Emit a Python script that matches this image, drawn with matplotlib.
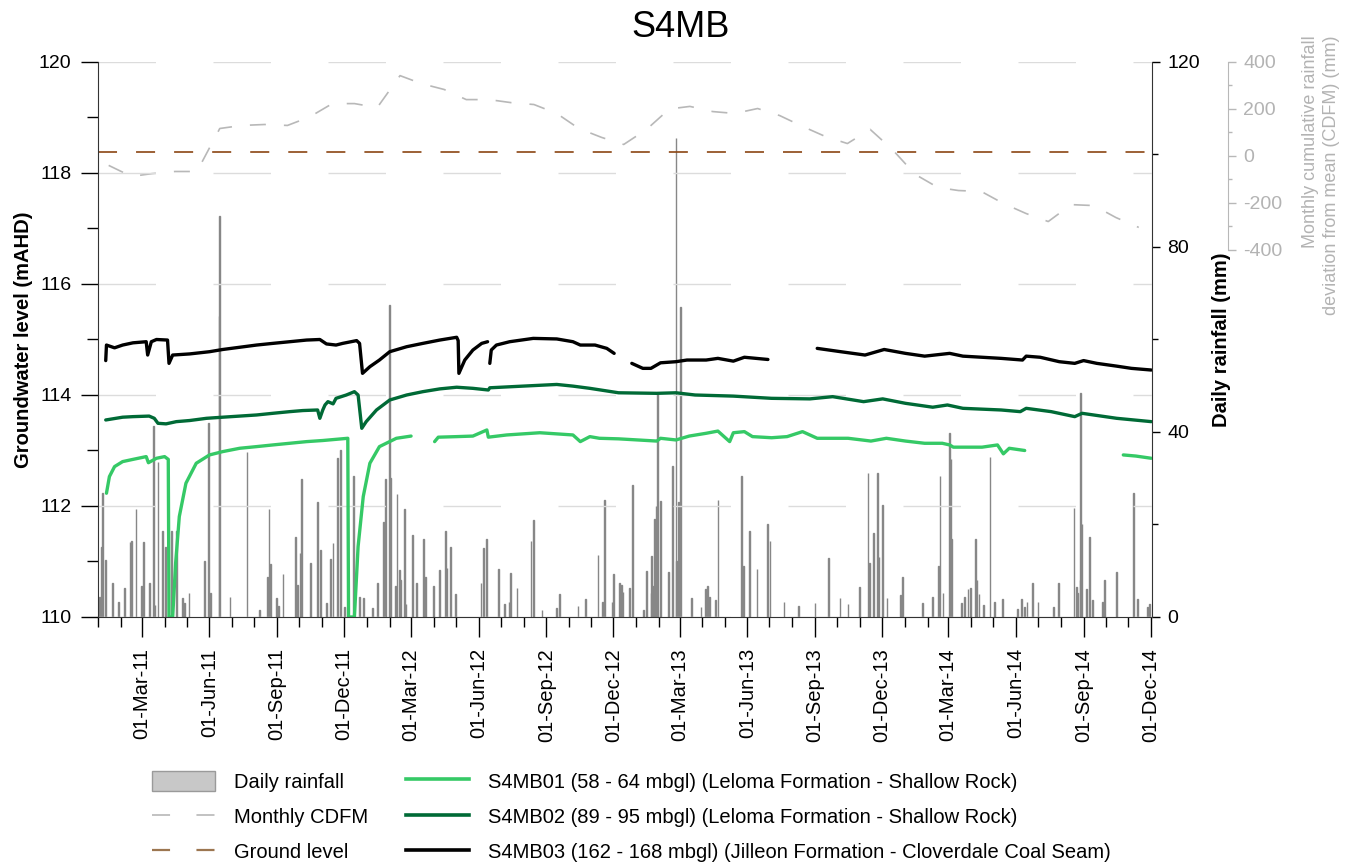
import numpy as np
import pandas as pd
import matplotlib
matplotlib.use("Agg")
import matplotlib.pyplot as plt
import matplotlib.dates as mdates
from matplotlib.ticker import MultipleLocator, FixedLocator
from matplotlib.patches import Patch
from matplotlib.lines import Line2D

plt.rcParams['font.family'] = ['Liberation Sans', 'DejaVu Sans']
plt.rcParams['lines.scale_dashes'] = False
plt.rcParams['axes.unicode_minus'] = False

nan = np.nan

# ---------------- data ----------------
rain_dates = [
    '2011-01-03', '2011-01-05', '2011-01-07', '2011-01-11', '2011-01-20', '2011-01-28',
    '2011-02-06', '2011-02-13', '2011-02-15', '2011-02-21', '2011-03-01', '2011-03-03',
    '2011-03-11', '2011-03-17', '2011-03-19', '2011-03-23', '2011-03-29', '2011-04-02',
    '2011-04-10', '2011-04-17', '2011-04-25', '2011-04-28', '2011-05-04', '2011-05-25',
    '2011-05-31', '2011-06-02', '2011-06-14', '2011-06-15', '2011-06-29', '2011-07-22',
    '2011-08-08', '2011-08-19', '2011-08-21', '2011-08-23', '2011-08-31', '2011-09-03',
    '2011-09-09', '2011-09-26', '2011-09-29', '2011-10-02', '2011-10-04', '2011-10-16',
    '2011-10-26', '2011-10-30', '2011-11-07', '2011-11-12', '2011-11-16', '2011-11-22',
    '2011-11-26', '2011-12-02', '2011-12-14', '2011-12-22', '2011-12-27',
    '2012-01-09', '2012-01-15', '2012-01-24', '2012-01-26', '2012-02-01', '2012-02-02',
    '2012-02-09', '2012-02-11', '2012-02-14', '2012-02-16', '2012-02-21', '2012-02-23',
    '2012-03-03', '2012-03-08', '2012-03-18', '2012-03-21', '2012-03-31', '2012-04-09',
    '2012-04-17', '2012-04-19', '2012-04-24', '2012-04-30', '2012-06-04', '2012-06-07',
    '2012-06-12', '2012-06-28', '2012-07-06', '2012-07-12', '2012-07-14', '2012-07-23',
    '2012-08-11', '2012-08-14', '2012-08-26', '2012-09-15', '2012-09-19', '2012-10-14',
    '2012-10-24', '2012-11-10', '2012-11-16', '2012-11-19', '2012-11-29', '2012-12-01',
    '2012-12-09', '2012-12-12', '2012-12-14', '2012-12-23', '2012-12-27',
    '2013-01-11', '2013-01-15', '2013-01-21', '2013-01-22', '2013-01-24', '2013-01-26',
    '2013-01-28', '2013-01-30', '2013-02-03', '2013-02-14', '2013-02-19', '2013-02-24',
    '2013-02-25', '2013-02-27', '2013-03-02', '2013-03-17', '2013-03-30', '2013-04-05',
    '2013-04-08', '2013-04-11', '2013-04-19', '2013-04-22', '2013-05-24', '2013-05-27',
    '2013-06-04', '2013-06-14', '2013-06-28', '2013-07-02', '2013-07-21', '2013-08-10',
    '2013-09-01', '2013-09-19', '2013-10-05', '2013-10-16', '2013-10-31', '2013-11-12',
    '2013-11-14', '2013-11-19', '2013-11-25', '2013-11-27', '2013-12-02', '2013-12-08',
    '2013-12-26', '2013-12-29',
    '2014-01-25', '2014-02-08', '2014-02-16', '2014-02-18', '2014-02-22', '2014-03-03',
    '2014-03-05', '2014-03-06', '2014-03-19', '2014-03-23', '2014-03-28', '2014-03-31',
    '2014-04-07', '2014-04-09', '2014-04-12', '2014-04-18', '2014-04-27', '2014-05-03',
    '2014-05-14', '2014-06-03', '2014-06-09', '2014-06-13', '2014-06-16', '2014-06-24',
    '2014-07-01', '2014-07-22', '2014-07-29', '2014-08-19', '2014-08-22', '2014-08-24',
    '2014-08-27', '2014-08-28', '2014-08-30', '2014-09-05', '2014-09-09', '2014-09-13',
    '2014-09-27', '2014-09-29', '2014-10-16', '2014-11-08', '2014-11-13', '2014-11-27',
    '2014-11-30',
]
rain_mm = [
    4.4, 15.2, 26.9, 12.3, 7.3, 3.3,
    6.2, 16.3, 16.4, 23.4, 6.6, 16.3,
    7.4, 41.2, 2.6, 33.6, 18.6, 15.2,
    18.7, 18.5, 4.0, 3.0, 5.1, 12.0,
    41.9, 5.1, 65.0, 86.7, 4.3, 35.7,
    1.5, 8.7, 23.3, 11.5, 4.0, 2.4,
    9.2, 17.2, 6.9, 13.8, 29.8, 11.7,
    24.9, 14.5, 3.0, 12.6, 15.9, 34.3,
    36.2, 2.2, 30.5, 4.4, 4.0,
    1.9, 7.3, 20.6, 29.8, 67.5, 30.0,
    6.7, 26.7, 10.2, 8.1, 23.3, 2.8,
    17.7, 7.3, 16.8, 8.7, 6.6, 10.2,
    18.7, 10.5, 15.1, 5.0, 7.3, 15.0,
    16.9, 10.4, 2.8, 3.3, 9.6, 6.2,
    16.5, 21.0, 1.5, 1.9, 5.0, 2.4,
    3.8, 13.3, 3.3, 25.4, 3.3, 9.2,
    7.4, 6.9, 5.5, 6.2, 28.5,
    1.5, 10.0, 5.1, 13.2, 6.8, 21.1,
    23.9, 48.4, 25.0, 9.7, 32.6, 103.6,
    12.0, 24.8, 67.0, 4.0, 2.2, 6.0,
    6.6, 4.4, 3.7, 25.3, 30.5, 11.1,
    18.7, 10.4, 20.0, 16.5, 3.3, 2.4,
    3.1, 12.7, 4.2, 2.8, 6.4, 31.1,
    11.7, 18.2, 31.2, 12.9, 24.2, 4.0,
    4.8, 8.6,
    3.0, 4.3, 11.0, 30.5, 5.1, 39.8,
    34.1, 16.8, 3.0, 4.3, 6.0, 6.2,
    16.9, 8.1, 4.9, 2.5, 34.5, 3.2,
    3.8, 1.7, 3.8, 2.2, 3.2, 7.3,
    3.3, 2.2, 7.3, 23.5, 6.4, 5.1,
    8.1, 48.4, 20.0, 6.0, 17.4, 3.7,
    3.3, 8.1, 9.7, 26.9, 3.8, 2.2,
    2.8,
]

# monthly cumulative deviation from mean, Jan 2011 - Nov 2014 (mm)
cdfm_mm = [
    -40, -87, -75, -66, -66, 117, 130, 134, 130, 166, 223, 223,
    206, 342, 308, 283, 240, 240, 227, 219, 181, 117, 79, 49,
    113, 200, 211, 189, 181, 202, 172, 126, 83, 53, 113, 28,
    -78, -134, -147, -151, -202, -245, -279, -207, -211, -262, -304,
]

ground_level = 118.38

s1_dates = [
    '2011-01-12', '2011-01-16', '2011-01-23', '2011-02-03', '2011-02-17', '2011-03-07',
    '2011-03-10', '2011-03-21', '2011-04-01', '2011-04-06', '2011-04-07', '2011-04-12',
    '2011-04-16', '2011-04-21', '2011-04-30', '2011-05-14', '2011-06-01', '2011-06-19',
    '2011-07-12', '2011-08-04', '2011-08-26', '2011-09-18', '2011-10-11', '2011-11-02',
    '2011-12-06', '2011-12-07', '2011-12-15', '2011-12-20', '2011-12-27', '2012-01-05',
    '2012-01-18', '2012-02-10', '2012-03-01', '2012-03-15',
    '2012-04-02', '2012-04-07', '2012-05-02', '2012-05-24', '2012-06-12', '2012-06-14',
    '2012-07-09', '2012-08-23', '2012-10-07', '2012-10-17', '2012-10-30', '2012-11-12',
    '2012-12-08', '2013-01-03', '2013-01-29', '2013-02-03', '2013-02-24', '2013-03-14',
    '2013-04-06', '2013-04-22', '2013-05-08', '2013-05-13', '2013-05-28', '2013-06-08',
    '2013-07-04', '2013-07-25', '2013-08-15', '2013-09-04', '2013-10-16', '2013-11-16',
    '2013-12-07', '2014-01-02', '2014-01-28', '2014-02-21', '2014-03-03', '2014-03-08',
    '2014-04-16', '2014-05-07', '2014-05-15', '2014-05-23', '2014-06-13', '2014-08-01',
    '2014-10-25', '2014-11-11', '2014-12-02',
]
s1_level = [
    112.23, 112.53, 112.71, 112.80, 112.84, 112.89,
    112.78, 112.86, 112.89, 112.84, 110.00, 110.00,
    110.97, 111.81, 112.41, 112.77, 112.92, 112.98,
    113.04, 113.07, 113.10, 113.13, 113.16, 113.18,
    113.22, 110.00, 110.00, 111.27, 112.17, 112.77,
    113.07, 113.22, 113.26, nan,
    113.16, 113.24, 113.25, 113.26, 113.37, 113.24,
    113.28, 113.32, 113.28, 113.16, 113.25, 113.22,
    113.21, 113.19, 113.17, 113.22, 113.19, 113.26,
    113.31, 113.35, 113.16, 113.32, 113.34, 113.25,
    113.23, 113.25, 113.34, 113.22, 113.22, 113.17,
    113.22, 113.17, 113.13, 113.13, 113.10, 113.06,
    113.06, 113.10, 112.94, 113.04, 113.00, nan,
    112.92, 112.90, 112.86,
]

s2_dates = [
    '2011-01-11', '2011-02-03', '2011-02-17', '2011-03-11', '2011-03-18', '2011-03-23',
    '2011-04-03', '2011-04-17', '2011-05-05', '2011-05-28', '2011-06-19', '2011-07-12',
    '2011-08-04', '2011-08-26', '2011-09-18', '2011-10-06', '2011-10-26', '2011-10-29',
    '2011-11-02', '2011-11-05', '2011-11-09', '2011-11-16', '2011-11-20', '2011-12-04',
    '2011-12-15', '2011-12-20', '2011-12-25', '2011-12-31', '2012-01-14', '2012-02-01',
    '2012-02-24', '2012-03-17', '2012-04-09', '2012-05-02', '2012-05-24', '2012-06-14',
    '2012-06-16', '2012-07-31', '2012-09-15', '2012-10-07', '2012-10-30', '2012-12-08',
    '2013-01-29', '2013-02-24', '2013-03-22', '2013-05-13', '2013-07-04', '2013-08-25',
    '2013-09-25', '2013-11-06', '2013-12-02', '2014-01-02', '2014-02-08', '2014-02-28',
    '2014-03-21', '2014-05-12', '2014-06-07', '2014-06-15', '2014-07-19', '2014-08-20',
    '2014-08-30', '2014-10-16', '2014-12-02',
]
s2_level = [
    113.55, 113.60, 113.61, 113.62, 113.58, 113.49,
    113.48, 113.52, 113.54, 113.58, 113.60, 113.62,
    113.64, 113.67, 113.70, 113.72, 113.73, 113.58,
    113.73, 113.82, 113.88, 113.84, 113.94, 114.00,
    114.06, 114.00, 113.40, 113.52, 113.73, 113.91,
    114.00, 114.06, 114.11, 114.14, 114.12, 114.09,
    114.13, 114.16, 114.19, 114.16, 114.12, 114.04,
    114.03, 114.04, 114.00, 113.98, 113.94, 113.93,
    113.97, 113.88, 113.93, 113.85, 113.78, 113.82,
    113.76, 113.73, 113.70, 113.76, 113.70, 113.61,
    113.67, 113.58, 113.52,
]

s3_dates = [
    '2011-01-11', '2011-01-12', '2011-01-23', '2011-02-03', '2011-02-17', '2011-03-07',
    '2011-03-09', '2011-03-14', '2011-03-21', '2011-04-05', '2011-04-07', '2011-04-12',
    '2011-05-05', '2011-06-01', '2011-06-19', '2011-07-12', '2011-08-04', '2011-08-26',
    '2011-09-18', '2011-10-11', '2011-10-29', '2011-11-07', '2011-11-20', '2011-11-29',
    '2011-12-18', '2011-12-22', '2011-12-26', '2012-01-05', '2012-01-18', '2012-02-01',
    '2012-02-24', '2012-03-17', '2012-04-09', '2012-05-02', '2012-05-04', '2012-05-05',
    '2012-05-13', '2012-05-24', '2012-06-05', '2012-06-13', '2012-06-15',
    '2012-06-16', '2012-06-18', '2012-06-25', '2012-07-13', '2012-08-14', '2012-09-15',
    '2012-10-07', '2012-10-17', '2012-11-06', '2012-11-22', '2012-12-02', '2012-12-14',
    '2012-12-26', '2013-01-10', '2013-01-21', '2013-02-03', '2013-02-24', '2013-03-11',
    '2013-04-06', '2013-04-22', '2013-05-13', '2013-05-28', '2013-06-29', '2013-08-01',
    '2013-09-04', '2013-10-06', '2013-11-08', '2013-12-04', '2014-01-02', '2014-01-28',
    '2014-03-03', '2014-03-21', '2014-05-12', '2014-06-10', '2014-06-15', '2014-07-04',
    '2014-07-30', '2014-08-20', '2014-09-01', '2014-09-19', '2014-10-16', '2014-11-05',
    '2014-12-02',
]
s3_level = [
    114.62, 114.90, 114.85, 114.90, 114.94, 114.96,
    114.72, 114.96, 115.00, 114.99, 114.57, 114.72,
    114.74, 114.78, 114.82, 114.86, 114.90, 114.93,
    114.96, 114.99, 115.00, 114.92, 114.90, 114.93,
    114.98, 114.93, 114.39, 114.51, 114.63, 114.78,
    114.87, 114.93, 114.99, 115.04, 114.98, 114.39,
    114.63, 114.81, 114.93, 114.96, nan,
    114.57, 114.81, 114.90, 114.96, 115.02, 115.01,
    114.96, 114.90, 114.90, 114.84, 114.75, nan,
    114.57, 114.48, 114.48, 114.58, 114.60, 114.63,
    114.63, 114.66, 114.61, 114.68, 114.64, nan,
    114.84, 114.78, 114.72, 114.82, 114.75, 114.70,
    114.75, 114.70, 114.66, 114.63, 114.70, 114.68,
    114.60, 114.57, 114.62, 114.57, 114.52, 114.48,
    114.45,
]

labels = [
    'Daily rainfall', 'Monthly CDFM', 'Ground level',
    'S4MB01 (58 - 64 mbgl) (Leloma Formation - Shallow Rock)',
    'S4MB02 (89 - 95 mbgl) (Leloma Formation - Shallow Rock)',
    'S4MB03 (162 - 168 mbgl) (Jilleon Formation - Cloverdale Coal Seam)',
]

# ---------------- styles ----------------
C_S1 = '#35c966'
C_S2 = '#006a36'
C_S3 = '#000000'
C_RAIN_EDGE = '#878787'
C_RAIN_FACE = '#c8c8c8'
C_CDFM = '#b8b8b8'
C_GROUND = '#8b4513'
C_GRID = '#dcdcdc'

rain_x = pd.to_datetime(rain_dates)
cdfm_x = pd.date_range('2011-01-01', periods=len(cdfm_mm), freq='MS') + pd.Timedelta(days=14)
s1_x = pd.to_datetime(s1_dates)
s2_x = pd.to_datetime(s2_dates)
s3_x = pd.to_datetime(s3_dates)

fig = plt.figure(figsize=(13.51, 8.66), dpi=100)
ax = fig.add_axes([0.07254, 0.28753, 0.78016, 0.64088])
ax_rain = ax.twinx()
ax_cdfm = ax.twinx()

ax.set_zorder(3)
ax.patch.set_visible(False)
ax_rain.set_zorder(1)
ax_cdfm.set_zorder(2)

# rainfall bars
ax_rain.bar(rain_x, rain_mm, width=1.0, color=C_RAIN_FACE, edgecolor=C_RAIN_EDGE,
            linewidth=1.0, align='center')
ax_rain.set_ylim(0, 120)
ax_rain.yaxis.set_major_locator(FixedLocator([0, 40, 80, 120]))
ax_rain.yaxis.set_minor_locator(FixedLocator([20, 60, 100]))
ax_rain.tick_params(axis='y', which='major', direction='out', length=6, width=1,
                    labelsize=14, pad=5)
ax_rain.tick_params(axis='y', which='minor', direction='out', length=4, width=1)
for s in ('top', 'left', 'bottom'):
    ax_rain.spines[s].set_visible(False)
ax_rain.spines['right'].set_color('#333333')
ax_rain.set_ylabel('Daily rainfall (mm)', fontsize=14.5, fontweight='bold')
ax_rain.yaxis.set_label_coords(1.057, 0.5)

# CDFM on an offset axis occupying the upper part
ax_cdfm.plot(cdfm_x, cdfm_mm, color=C_CDFM, lw=1.2, dashes=(11.5, 13))
ax_cdfm.set_ylim(-1962, 400)
ax_cdfm.spines['right'].set_position(('outward', 54.7))
ax_cdfm.spines['right'].set_bounds(-400, 400)
ax_cdfm.spines['right'].set_color('#b8b8b8')
for s in ('top', 'left', 'bottom'):
    ax_cdfm.spines[s].set_visible(False)
ax_cdfm.yaxis.set_major_locator(FixedLocator([-400, -200, 0, 200, 400]))
ax_cdfm.yaxis.set_minor_locator(FixedLocator([-300, -100, 100, 300]))
ax_cdfm.tick_params(axis='y', which='major', direction='out', length=6, width=1,
                    colors='#b8b8b8', labelcolor='#b3b3b3', labelsize=14, pad=5)
ax_cdfm.tick_params(axis='y', which='minor', direction='out', length=3, width=1,
                    colors='#b8b8b8')
fig.text(1321 / 1351, 1 - 175 / 866,
         'Monthly cumulative rainfall\ndeviation from mean (CDFM) (mm)',
         rotation=90, ha='center', va='center', multialignment='right',
         fontsize=13, color='#b3b3b3', linespacing=1.3)

# groundwater levels
ax.yaxis.grid(True, which='major', color=C_GRID, lw=1.0, dashes=(41.4, 41.4))
ax.axhline(ground_level, color=C_GROUND, lw=1.2, dashes=(13.7, 13.7))
kw = dict(lw=2.4, solid_capstyle='round', solid_joinstyle='round')
ax.plot(s1_x, s1_level, color=C_S1, **kw)
ax.plot(s2_x, s2_level, color=C_S2, **kw)
ax.plot(s3_x, s3_level, color=C_S3, **kw)

ax.set_ylim(110, 120)
ax.yaxis.set_major_locator(MultipleLocator(2))
ax.yaxis.set_minor_locator(MultipleLocator(1))
ax.set_xlim(pd.Timestamp('2010-12-31 12:00'), pd.Timestamp('2014-12-03'))
ax.xaxis.set_major_locator(mdates.MonthLocator(bymonth=[3, 6, 9, 12], bymonthday=1))
ax.xaxis.set_minor_locator(mdates.MonthLocator(bymonthday=1))
ax.xaxis.set_major_formatter(mdates.DateFormatter('%d-%b-%y'))
ax.tick_params(axis='x', which='major', direction='out', length=14.4, width=1,
               labelsize=14.5, pad=8, labelrotation=90)
ax.tick_params(axis='x', which='minor', direction='out', length=7.2, width=1)
ax.tick_params(axis='y', which='major', direction='out', length=12, width=1,
               labelsize=14, pad=7)
ax.tick_params(axis='y', which='minor', direction='out', length=8, width=1)
ax.spines['top'].set_visible(False)
ax.spines['right'].set_visible(False)
ax.spines['left'].set_color('#333333')
ax.spines['bottom'].set_color('#333333')
ax.set_ylabel('Groundwater level (mAHD)', fontsize=14.5, fontweight='bold')
ax.yaxis.set_label_coords(-0.0617, 0.5)

fig.text(0.504, 0.968, 'S4MB', ha='center', va='center', fontsize=26)

# legend
handles = [
    Patch(facecolor=C_RAIN_FACE, edgecolor='#9a9a9a', lw=1.0),
    Line2D([], [], color=C_CDFM, lw=1.2, dashes=(13, 19)),
    Line2D([], [], color='#9c7650', lw=1.6, dashes=(13, 19)),
    Line2D([], [], color=C_S1, lw=2.6),
    Line2D([], [], color=C_S2, lw=2.6),
    Line2D([], [], color=C_S3, lw=2.6),
]
fig.legend(handles, labels, ncol=2, loc='upper left',
           bbox_to_anchor=(152 / 1351, 1 - 771 / 866), frameon=False, fontsize=14.5,
           handlelength=3.15, handleheight=1.14, handletextpad=0.9,
           columnspacing=1.9, labelspacing=0.72, borderpad=0, borderaxespad=0)

fig.savefig('out.png', dpi=100)
